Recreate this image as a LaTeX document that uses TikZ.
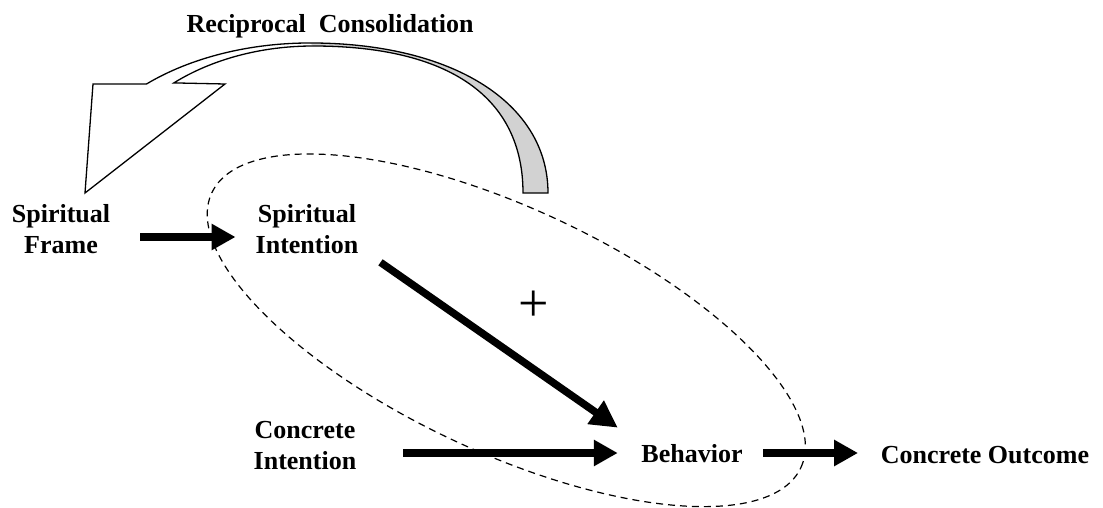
\documentclass[tikz,border=0pt]{standalone}
\usepackage{fontspec}
\setmainfont{Liberation Serif}
\usetikzlibrary{arrows.meta}
\begin{document}
\begin{tikzpicture}[x=1pt,y=1pt,
  lbl/.style={font=\bfseries\fontsize{26}{31}\selectfont, align=center, inner sep=0pt},
  bigarrow/.style={line width=7.5pt, -{Triangle[length=24pt,width=25pt]}},
  diagarrow/.style={line width=7.5pt, -{Triangle[length=27pt,width=27pt]}},
  dashline/.style={line width=1.2pt, dash pattern=on 7pt off 5pt},
  bandline/.style={line width=1.3pt, line join=miter}]
\useasboundingbox (0,0) rectangle (1103,-508);

% reciprocal consolidation curved arrow
\fill[gray!35] (310,-43) .. controls (452.8,-43) and (548,-103) .. (548,-193)
  -- (523,-193) .. controls (523,-97.4) and (449.5,-46) .. (313,-46) -- cycle;
\draw[bandline] (523,-193) .. controls (523,-97.4) and (449.5,-46) .. (313,-46)
  arc[start angle=90,end angle=131.5,x radius=210,y radius=147]
  -- (225,-84) -- (85,-193) -- (93,-84) -- (146.5,-84)
  arc[start angle=133.4,end angle=90,x radius=238,y radius=150]
  .. controls (452.8,-43) and (548,-103) .. (548,-193) -- cycle;

% dashed ellipse
\draw[dashline, rotate around={-25:(506.3,-330.3)}] (506.3,-330.3) ellipse [x radius=325, y radius=122];

% labels
\node[lbl] (rc) at (330,-26) {Reciprocal\ \ Consolidation};
\node[lbl] (sf) at (61,-229.5) {Spiritual\\Frame};
\node[lbl] (si) at (307,-229.5) {Spiritual\\Intention};
\node[lbl] (ci) at (305,-446) {Concrete\\Intention};
\node[lbl] (beh) at (692,-454) {Behavior};
\node[lbl] (co) at (985,-455) {Concrete Outcome};
\node[font=\fontsize{54}{60}\selectfont, inner sep=0pt] (plus) at (534,-306) {+};

% connectors
\draw[bigarrow] ([xshift=30pt,yshift=-7.5pt]sf.east) -- ([xshift=-20pt,yshift=-7.5pt]si.west);
\draw[diagarrow] ([xshift=22pt,yshift=-8pt]si.south east) -- ([xshift=-23.5pt,yshift=17pt]beh.north west);
\draw[bigarrow] ([xshift=47pt,yshift=-7pt]ci.east) -- ([xshift=-23.5pt,yshift=1pt]beh.west);
\draw[bigarrow] ([xshift=20.5pt,yshift=1pt]beh.east) -- ([xshift=-22.7pt,yshift=2pt]co.west);
\end{tikzpicture}
\end{document}
